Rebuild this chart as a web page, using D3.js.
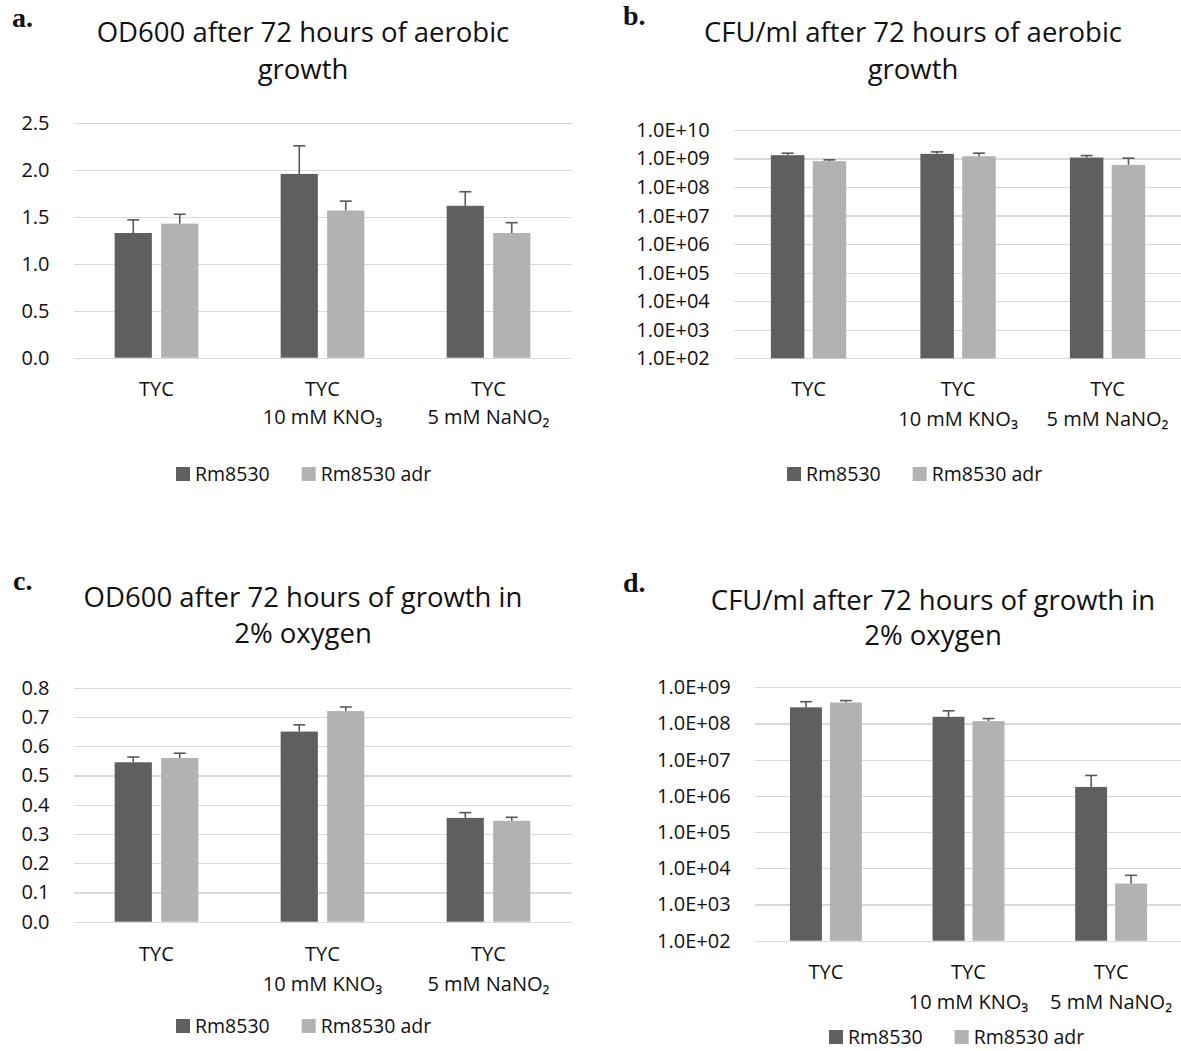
<!DOCTYPE html>
<meta charset="utf-8">
<style>
body { margin: 0; background: #fff; }
text { font-family: "Open Sans", "DejaVu Sans", sans-serif; fill: #111; }
.grid line { stroke: #d9d9d9; stroke-width: 1.3px; shape-rendering: crispEdges; }
.grid path { display: none; }
.letter { font-family: "Liberation Serif", "DejaVu Serif", serif; font-weight: bold; font-size: 28px; }
</style>
<body>
<svg id="fig" width="1181" height="1051"></svg>
<script src="https://d3js.org/d3.v7.min.js"></script>
<script>
// --- data ---
var categories = ["TYC", "TYC\n10 mM KNO\u2083", "TYC\n5 mM NaNO\u2082"];
var series = ["Rm8530", "Rm8530 adr"];
var colours = ["#5f5f5f", "#b2b2b2"];

// a. OD600 aerobic
var odAerobic = [[1.33, 1.96, 1.62], [1.43, 1.57, 1.33]];
var odAerobicErr = [[0.14, 0.30, 0.15], [0.10, 0.10, 0.11]];
var odAerobicTicks = [0, 0.5, 1.0, 1.5, 2.0, 2.5];

// b. CFU/ml aerobic
var cfuAerobic = [[1.31e9, 1.46e9, 1.08e9], [8.1e8, 1.21e9, 6.0e8]];
var cfuAerobicErr = [[2.3e8, 2.5e8, 1.9e8], [0.9e8, 3.3e8, 4.3e8]];
var cfuAerobicTicks = [1e2, 1e3, 1e4, 1e5, 1e6, 1e7, 1e8, 1e9, 1e10];

// c. OD600 2% oxygen
var odLowO2 = [[0.545, 0.65, 0.355], [0.56, 0.72, 0.345]];
var odLowO2Err = [[0.018, 0.023, 0.018], [0.016, 0.014, 0.012]];
var odLowO2Ticks = [0, 0.1, 0.2, 0.3, 0.4, 0.5, 0.6, 0.7, 0.8];

// d. CFU/ml 2% oxygen
var cfuLowO2 = [[2.8e8, 1.53e8, 1.77e6], [3.8e8, 1.16e8, 3.8e3]];
var cfuLowO2Err = [[1.2e8, 7.1e7, 1.9e6], [5e7, 2.1e7, 2.6e3]];
var cfuLowO2Ticks = [1e2, 1e3, 1e4, 1e5, 1e6, 1e7, 1e8, 1e9];

var linFmt = d3.format(".1f");
var expFmt = function(d) { return "1.0E+" + String(Math.round(Math.log10(d))).padStart(2, "0"); };

var svg = d3.select("#fig");

function drawPanel(p) {
  var g = svg.append("g");

  var x0 = d3.scaleBand().domain(categories).range([p.left, p.right]).padding(0);
  var pairW = x0.bandwidth() * 0.504;
  var x1 = d3.scaleBand().domain(series).range([0, pairW]).paddingInner(0.2);

  var y = (p.log ? d3.scaleLog() : d3.scaleLinear())
    .domain([p.ticks[0], p.ticks[p.ticks.length - 1]])
    .range([p.bottom, p.top]);

  // gridlines + tick labels
  g.append("g")
    .attr("class", "grid")
    .attr("transform", "translate(" + p.left + ",0)")
    .call(d3.axisLeft(y).tickValues(p.ticks).tickFormat(p.fmt)
      .tickSizeInner(-(p.right - p.left)).tickSizeOuter(0).tickPadding(24))
    .selectAll("text")
      .style("font-size", "20px")
      .attr("fill", "#111");

  // bars
  var rows = [];
  p.values.forEach(function(vals, s) {
    vals.forEach(function(v, c) {
      rows.push({ cat: categories[c], s: s, v: v, e: p.err[s][c] });
    });
  });

  function cx(d) { return x0(d.cat) + (x0.bandwidth() - pairW) / 2 + x1(series[d.s]) + x1.bandwidth() / 2; }

  var base = p.ticks[0];
  g.selectAll(".bar")
    .data(rows)
    .enter().append("rect")
      .attr("x", function(d) { return cx(d) - x1.bandwidth() / 2; })
      .attr("width", x1.bandwidth())
      .attr("y", function(d) { return y(d.v); })
      .attr("height", function(d) { return y(base) - y(d.v); })
      .attr("fill", function(d) { return colours[d.s]; });

  // error bars (upper only)
  var eb = g.selectAll(".err")
    .data(rows)
    .enter().append("g")
      .attr("stroke", "#595959")
      .attr("stroke-width", 1.6);
  eb.append("line")
    .attr("x1", cx).attr("x2", cx)
    .attr("y1", function(d) { return y(d.v); })
    .attr("y2", function(d) { return y(d.v + d.e); });
  eb.append("line")
    .attr("x1", function(d) { return cx(d) - 6; })
    .attr("x2", function(d) { return cx(d) + 6; })
    .attr("y1", function(d) { return y(d.v + d.e); })
    .attr("y2", function(d) { return y(d.v + d.e); });

  // category labels
  categories.forEach(function(c) {
    c.split("\n").forEach(function(line, i) {
      g.append("text")
        .attr("x", x0(c) + x0.bandwidth() / 2)
        .attr("y", p.bottom + p.xlab[i])
        .attr("text-anchor", "middle")
        .style("font-size", "20px")
        .text(line);
    });
  });

  // title
  p.title.forEach(function(line, i) {
    g.append("text")
      .attr("x", p.titleX)
      .attr("y", p.titleY[i])
      .attr("text-anchor", "middle")
      .style("font-size", "27.5px")
      .text(line);
  });

  // panel letter
  g.append("text")
    .attr("class", "letter")
    .attr("x", p.letterX)
    .attr("y", p.letterY)
    .text(p.letter);

  // legend
  var lg = g.append("g").attr("transform", "translate(" + p.legX + "," + p.legY + ")");
  var off = 0;
  series.forEach(function(s, i) {
    lg.append("rect")
      .attr("x", off).attr("y", -14)
      .attr("width", 14).attr("height", 14)
      .attr("fill", colours[i]);
    var t = lg.append("text")
      .attr("x", off + 19).attr("y", 0)
      .style("font-size", "19.5px")
      .text(s);
    off += 19 + t.node().getComputedTextLength() + 32;
  });
}

drawPanel({
  letter: "a.", letterX: 12, letterY: 27,
  title: ["OD600 after 72 hours of aerobic", "growth"], titleX: 303, titleY: [42, 79],
  left: 73.5, right: 571.5, top: 123.3, bottom: 357.7,
  values: odAerobic, err: odAerobicErr, ticks: odAerobicTicks, fmt: linFmt, log: false,
  xlab: [38.5, 66.5], legX: 176, legY: 481
});

drawPanel({
  letter: "b.", letterX: 623, letterY: 25,
  title: ["CFU/ml after 72 hours of aerobic", "growth"], titleX: 913, titleY: [42, 79],
  left: 733.8, right: 1182.3, top: 130, bottom: 358.3,
  values: cfuAerobic, err: cfuAerobicErr, ticks: cfuAerobicTicks, fmt: expFmt, log: true,
  xlab: [38, 68], legX: 787, legY: 481
});

drawPanel({
  letter: "c.", letterX: 13, letterY: 590,
  title: ["OD600 after 72 hours of growth in", "2% oxygen"], titleX: 303, titleY: [607, 643],
  left: 73.5, right: 571.5, top: 687.7, bottom: 921.7,
  values: odLowO2, err: odLowO2Err, ticks: odLowO2Ticks, fmt: linFmt, log: false,
  xlab: [39.5, 69], legX: 176, legY: 1033
});

drawPanel({
  letter: "d.", letterX: 623, letterY: 592,
  title: ["CFU/ml after 72 hours of growth in", "2% oxygen"], titleX: 933, titleY: [610, 645],
  left: 754.6, right: 1182.4, top: 687.3, bottom: 940.7,
  values: cfuLowO2, err: cfuLowO2Err, ticks: cfuLowO2Ticks, fmt: expFmt, log: true,
  xlab: [38.5, 68.5], legX: 829, legY: 1044
});
</script>
</body>
